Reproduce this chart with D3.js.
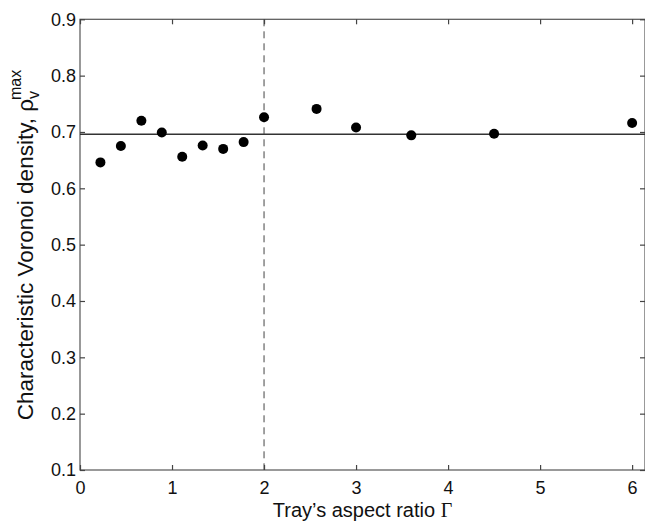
<!DOCTYPE html>
<html>
<head>
<meta charset="utf-8">
<script src="https://cdn.jsdelivr.net/npm/d3@7"></script>
<style>
    body { margin: 0; background: #fff; }
    svg { font-family: "Liberation Sans", Arial, sans-serif; }
</style>
</head>
<body>
<svg id="chart" width="645" height="525"></svg>
<script>
// aspect ratio of the tray
var ratios = [0.222, 0.444, 0.667, 0.889, 1.111, 1.333, 1.556, 1.778, 2.0, 2.571, 3.0, 3.6, 4.5, 6.0];
// characteristic voronoi density
var densities = [0.646, 0.675, 0.720, 0.699, 0.656, 0.676, 0.670, 0.682, 0.726, 0.741, 0.708, 0.694, 0.697, 0.716];
var meanDensity = 0.696;
var splitRatio = 2;
var xTicks = [0, 1, 2, 3, 4, 5, 6];
var yTicks = [0.1, 0.2, 0.3, 0.4, 0.5, 0.6, 0.7, 0.8, 0.9];

var plotL = 80, plotR = 645, plotT = 19.3, plotB = 470;
var svg = d3.select("#chart");

var x = d3.scaleLinear().domain([0, 6.14]).range([plotL, plotR]);
var y = d3.scaleLinear().domain([0.1, 0.9]).range([plotB, plotT]);

// frame
svg.append("rect")
    .attr("x", plotL).attr("y", plotT)
    .attr("width", plotR - plotL).attr("height", plotB - plotT)
    .attr("fill", "none").attr("stroke", "#555").attr("stroke-width", 1.2);

// axes, ticks inward
function styleAxis(g) {
    g.select(".domain").remove();
    g.selectAll(".tick line").attr("stroke", "#444").attr("stroke-width", 1.2);
    g.selectAll(".tick text").attr("fill", "#111").style("font-size", "18px");
}
svg.append("g").attr("transform", "translate(0," + plotB + ")")
    .call(d3.axisBottom(x).tickValues(xTicks).tickFormat(d3.format("d")).tickSizeInner(-5).tickPadding(11))
    .call(styleAxis);
svg.append("g").attr("transform", "translate(0," + plotT + ")")
    .call(d3.axisTop(x).tickValues(xTicks).tickFormat("").tickSizeInner(-5))
    .call(styleAxis);
svg.append("g").attr("transform", "translate(" + plotL + ",0)")
    .call(d3.axisLeft(y).tickValues(yTicks).tickFormat(d3.format(".1f")).tickSizeInner(-5).tickPadding(4))
    .call(styleAxis);
svg.append("g").attr("transform", "translate(" + plotR + ",0)")
    .call(d3.axisRight(y).tickValues(yTicks).tickFormat("").tickSizeInner(-5))
    .call(styleAxis);

// mean line
svg.append("line")
    .attr("x1", plotL).attr("x2", plotR)
    .attr("y1", y(meanDensity)).attr("y2", y(meanDensity))
    .attr("stroke", "#333").attr("stroke-width", 1.5);

// split line
svg.append("line")
    .attr("x1", x(splitRatio)).attr("x2", x(splitRatio))
    .attr("y1", plotT).attr("y2", plotB)
    .attr("stroke", "#444").attr("stroke-width", 1)
    .attr("stroke-dasharray", "7,5");

// points
svg.append("g").selectAll("circle")
    .data(ratios)
    .enter().append("circle")
    .attr("cx", function (d) { return x(d); })
    .attr("cy", function (d, i) { return y(densities[i]); })
    .attr("r", 5)
    .attr("fill", "#000");

// x label
var xl = svg.append("text")
    .attr("x", (plotL + plotR) / 2).attr("y", 517)
    .attr("text-anchor", "middle")
    .style("font-size", "20px").attr("fill", "#111");
xl.append("tspan").text("Tray\u2019s aspect ratio ");
xl.append("tspan").style("font-family", "'Liberation Serif', serif").text("\u0393");

// y label
var yl = svg.append("text")
    .attr("transform", "translate(33,245) rotate(-90)")
    .attr("text-anchor", "middle")
    .style("font-size", "22.5px").attr("fill", "#111");
yl.append("tspan").text("Characteristic Voronoi density, \u03c1");
yl.append("tspan").attr("dy", 6).style("font-size", "16px").text("v");
yl.append("tspan").attr("dx", -9).attr("dy", -18).style("font-size", "16px").text("max");
</script>
</body>
</html>
